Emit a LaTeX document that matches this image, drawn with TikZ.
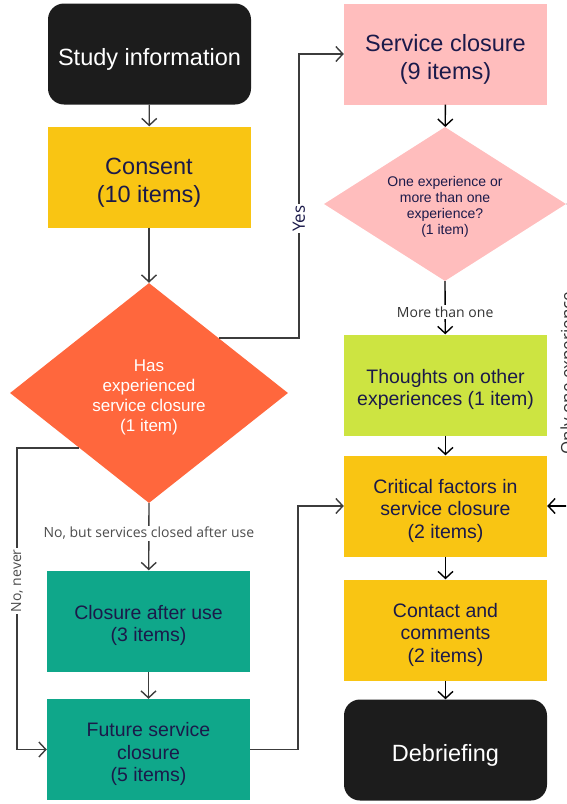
\documentclass[tikz,border=0pt]{standalone}
\usepackage{fontspec}
\setmainfont{Liberation Sans}
\newfontfamily\edgefont{Open Sans}
\usetikzlibrary{arrows.meta}
\usetikzlibrary{calc}
\usetikzlibrary{shapes.geometric}

\definecolor{boxblack}{HTML}{1C1C1C}
\definecolor{boxyellow}{HTML}{F9C513}
\definecolor{boxpink}{HTML}{FFBDBD}
\definecolor{boxorange}{HTML}{FF673D}
\definecolor{boxlime}{HTML}{CDE441}
\definecolor{boxteal}{HTML}{0FA78A}
\definecolor{navytext}{HTML}{1B1A4A}
\definecolor{linegrey}{HTML}{3C3C3C}
\definecolor{labelgrey}{HTML}{4D4D4D}

\newcommand{\topgap}{\rule{0pt}{1.2em}}

\tikzset{
  stage/.style={minimum width=203pt, minimum height=101pt, inner sep=0pt, align=center,
    text=navytext, font=\fontsize{19.5}{22.5}\selectfont},
  bigstage/.style={stage, font=\fontsize{23.5}{27.5}\selectfont},
  endstage/.style={bigstage, rounded corners=16pt, fill=boxblack, text=white},
  question/.style={diamond, inner sep=0pt, align=center},
  flow/.style={-{Straight Barb[length=7pt,width=15pt]}, line width=1.4pt, draw=linegrey},
  flowdark/.style={flow, draw=black},
  edgelabel/.style={fill=white, inner sep=1.5pt, text=labelgrey, font=\edgefont\fontsize{14}{16}\selectfont},
  biglabel/.style={edgelabel, font=\edgefont\fontsize{17}{19}\selectfont},
}

\begin{document}
\begin{tikzpicture}[x=1pt, y=-1pt]
  \useasboundingbox (0,0) rectangle (566,804);
  \clip (0,0) rectangle (566,804);

  \node[endstage] (info) at (149.5,54) {\topgap Study information};
  \node[bigstage, fill=boxyellow] (consent) at (149,177) {\topgap Consent\\(10 items)};
  \node[question, fill=boxorange, text=white, aspect=1.26, minimum width=278pt, minimum height=220pt,
    font=\fontsize{17}{20}\selectfont] (hasclosed) at (149,393) {\topgap Has\\experienced\\service closure\\(1 item)};
  \node[stage, fill=boxteal] (afteruse) at (148.5,621) {\topgap Closure after use\\(3 items)};
  \node[stage, fill=boxteal] (future) at (148.5,749.5) {\topgap Future service\\closure\\(5 items)};

  \node[bigstage, fill=boxpink] (svc) at (445.5,54) {\topgap Service closure\\(9 items)};
  \node[question, fill=boxpink, text=navytext, aspect=1.57, minimum width=242pt, minimum height=154pt,
    font=\fontsize{14}{16}\selectfont] (oneormore) at (445,204) {\topgap One experience or\\more than one\\experience?\\(1 item)};
  \node[stage, fill=boxlime] (thoughts) at (445.5,385) {\topgap Thoughts on other\\experiences (1 item)};
  \node[stage, fill=boxyellow] (crit) at (445.5,506) {\topgap Critical factors in\\service closure\\(2 items)};
  \node[stage, fill=boxyellow] (contact) at (445.5,630) {\topgap Contact and\\comments\\(2 items)};
  \node[endstage] (debrief) at (445.5,750) {\topgap Debriefing};

  \coordinate (yesbend) at (299,0);
  \coordinate (neverbend) at (17,0);
  \coordinate (futurebend) at (298,0);
  \coordinate (onlybend) at (569,0);

  \draw[flow] (info) to (consent);
  \draw[flow] (consent) to (hasclosed);
  \draw[flow] (hasclosed.north east) -| node[biglabel, text=navytext, rotate=90, pos=0.71] {Yes}
    (yesbend |- svc.west) -- (svc.west);
  \draw[flow] (hasclosed.south west) -| node[edgelabel, rotate=90, pos=0.72] {No, never}
    (neverbend |- future.west) -- (future.west);
  \draw[flow] (hasclosed.south) to node[edgelabel, pos=0.45] {No, but services closed after use} (afteruse);
  \draw[flow] (afteruse) to (future);
  \draw[flow] (future.east) -| (futurebend |- crit.west) -- (crit.west);

  \draw[flowdark] (svc) to (oneormore);
  \draw[flowdark] (oneormore.south) to node[edgelabel, text=black!80, pos=0.58] {More than one} (thoughts);
  \draw[flowdark] (thoughts) to (crit);
  \draw[flowdark] (crit) to (contact);
  \draw[flowdark] (contact) to (debrief);
  \draw[flowdark] (oneormore.east) -| node[biglabel, text=black!80, rotate=90, pos=0.78] {Only one experience}
    (onlybend |- crit.east) -- (crit.east);
\end{tikzpicture}
\end{document}
